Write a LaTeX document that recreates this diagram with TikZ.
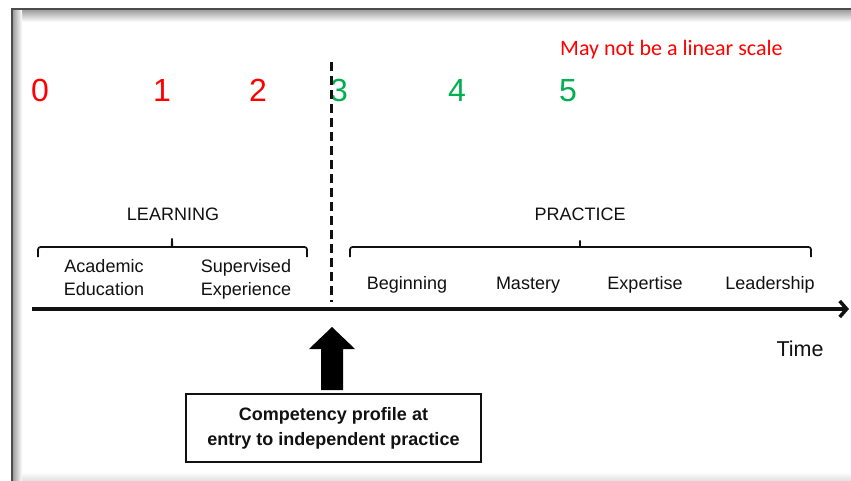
\documentclass[tikz,border=0pt]{standalone}
\usepackage{fontspec}
\setmainfont{Liberation Sans}
\newfontfamily\notefont{Carlito}
\usetikzlibrary{arrows.meta}
\definecolor{numred}{HTML}{FF0000}
\definecolor{numgreen}{HTML}{00B050}
\definecolor{ink}{HTML}{111111}
\begin{document}
\begin{tikzpicture}[x=1pt,y=-1pt,
  num/.style={font=\fontsize{32}{36}\selectfont, anchor=base, inner sep=0},
  lbl/.style={font=\fontsize{18}{21}\selectfont, text=ink, anchor=base, inner sep=0},
  bracepath/.style={line width=1.7pt, draw=ink, rounded corners=2.5pt},
]
\useasboundingbox (0,0) rectangle (851,481);
\fill[white] (0,0) rectangle (851,481);
% frame with shadow
\shade[top color=gray!75, bottom color=white] (12,10) rectangle (851,22);
\shade[left color=gray!75, right color=white] (13,10) rectangle (22,481);
\shade[top color=white, bottom color=gray!25] (22,472) rectangle (851,481);
\draw[line width=2.2pt, black!70] (12,481) -- (12,9) -- (851,9);

% scale numbers
\node[num, text=numred] (n0) at (40,102) {0};
\node[num, text=numred] (n1) at (162,102) {1};
\node[num, text=numred] (n2) at (258,102) {2};
\node[num, text=numgreen] (n3) at (339,102) {3};
\node[num, text=numgreen] (n4) at (457,102) {4};
\node[num, text=numgreen] (n5) at (568,102) {5};
\node[font=\notefont\fontsize{22}{26}\selectfont, text=numred, anchor=base west, inner sep=0] (note) at (560,56) {May not be a linear scale};

% dashed divider
\coordinate (dtop) at (331,62);
\coordinate (dbot) at (331,302);
\draw[line width=3pt, ink, dash pattern=on 9pt off 5pt] (dtop) -- (dbot);

% headings
\node[lbl] (learning) at (173,221) {LEARNING};
\node[lbl] (practice) at (580,221) {PRACTICE};

% braces
\draw[bracepath] (38,257) |- (169,247) to[out=0,in=-90] (172,237) to[out=-90,in=180] (175,247) -| (307,257);
\draw[bracepath] (350,257) |- (577,247) to[out=0,in=-90] (580,239) to[out=-90,in=180] (583,247) -| (811,257);

% learning stages
\node[lbl] (ac1) at (104,272) {Academic};
\node[lbl] (ac2) at (104,295) {Education};
\node[lbl] (sv1) at (246,272) {Supervised};
\node[lbl] (sv2) at (246,295) {Experience};

% practice stages
\node[lbl] (beg) at (407,289) {Beginning};
\node[lbl] (mas) at (528,289) {Mastery};
\node[lbl] (exp) at (645,289) {Expertise};
\node[lbl] (lead) at (770,289) {Leadership};

% time axis
\coordinate (axs) at (32,309);
\coordinate (axe) at (849,309);
\draw[line width=3.5pt, ink, -{Straight Barb[length=7pt,width=16pt]}] (axs) -- (axe);
\node[font=\fontsize{21.5}{25}\selectfont, text=ink, anchor=base, inner sep=0] (time) at (800,356) {Time};

% competency box
\node[draw=ink, line width=2pt, minimum width=295pt, minimum height=68pt, inner sep=0,
      align=center, font=\bfseries\fontsize{18}{25}\selectfont, text=ink] (box) at (333.5,428)
      {Competency profile at\\entry to independent practice};

% block arrow
\fill[black] (321,390) -- (321,349) -- (309,349) -- (332,327) -- (355,349) -- (343,349) -- (343,390) -- cycle;
\end{tikzpicture}
\end{document}
